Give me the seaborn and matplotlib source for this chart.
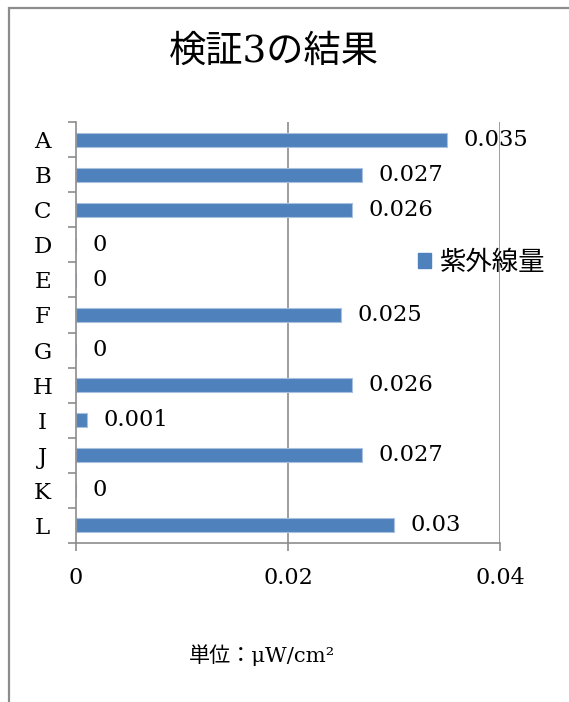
import matplotlib
matplotlib.use("Agg")
import matplotlib.pyplot as plt
import seaborn as sns
import pandas as pd
from matplotlib.patches import Patch, Rectangle
from matplotlib.ticker import FixedLocator

categories = ["A", "B", "C", "D", "E", "F", "G", "H", "I", "J", "K", "L"]
values = [0.035, 0.027, 0.026, 0, 0, 0.025, 0, 0.026, 0.001, 0.027, 0, 0.03]
series_name = "紫外線量"
title = "検証3の結果"
unit_label = "単位：μW/cm²"
x_ticks = [0, 0.02, 0.04]
x_ticklabels = ["0", "0.02", "0.04"]

sns.set_style("white")
plt.rcParams["font.family"] = ["DejaVu Serif", "Noto Sans CJK JP"]
plt.rcParams["text.color"] = "black"
plt.rcParams["xtick.labelcolor"] = "black"
plt.rcParams["ytick.labelcolor"] = "black"

W, H = 569, 702
fig = plt.figure(figsize=(W / 100, H / 100), dpi=100)
ax = fig.add_axes([76 / W, 1 - 543 / H, (500 - 76) / W, (543 - 122) / H])

df = pd.DataFrame({"cat": categories, "val": values})
sns.barplot(data=df, x="val", y="cat", orient="h", color="#4F81BD",
            width=0.4, ax=ax, edgecolor="#A9C1DF", linewidth=0.8, saturation=1)

ax.set_xlim(0, 0.04)
ax.set_ylim(len(categories) - 0.5, -0.5)
grey = "#8C8C8C"

for xv in x_ticks[1:]:
    ax.axvline(xv, color=grey, lw=1.2, zorder=0)

for s in ["top", "right"]:
    ax.spines[s].set_visible(False)
for s in ["left", "bottom"]:
    ax.spines[s].set_color(grey)
    ax.spines[s].set_linewidth(1.2)

ax.set_xticks(x_ticks)
ax.set_xticklabels(x_ticklabels, fontsize=16, color="black")
ax.tick_params(axis="x", direction="out", length=6, width=1.2, color=grey,
               pad=11, bottom=True)

ax.yaxis.set_major_locator(FixedLocator([i - 0.5 for i in range(len(categories) + 1)]))
ax.set_yticklabels([""] * (len(categories) + 1))
ax.yaxis.set_minor_locator(FixedLocator(list(range(len(categories)))))
ax.set_yticklabels(categories, minor=True, fontsize=16.5, ha="center", color="black")
ax.tick_params(axis="y", which="major", direction="out", length=6, width=1.2,
               color=grey, left=True)
ax.tick_params(axis="y", which="minor", length=0, pad=24)
ax.set_xlabel("")
ax.set_ylabel("")

labels = [f"{v:g}" for v in values]
ax.bar_label(ax.containers[0], labels=labels, padding=12, fontsize=16.3, color="black")

fig.text(274 / W, 1 - 52 / H, title, fontsize=26.8, ha="center", va="center", color="black")
fig.text(262 / W, 1 - 655 / H, unit_label, fontsize=15.2, ha="center", va="center", color="black")

handle = Patch(facecolor="#4F81BD", edgecolor="#4F81BD")
fig.legend(handles=[handle], labels=[series_name], loc="center left",
           bbox_to_anchor=(418 / W, 1 - 262 / H), frameon=False, fontsize=19,
           handlelength=0.5, handleheight=0.5, handletextpad=0.35,
           borderpad=0, borderaxespad=0, labelcolor="black")

fig.add_artist(Rectangle((9 / W, -0.1), 2, 1.1 - 8 / H, transform=fig.transFigure,
                         fill=False, edgecolor=grey, lw=1.6))

fig.savefig("out.png", dpi=100)
